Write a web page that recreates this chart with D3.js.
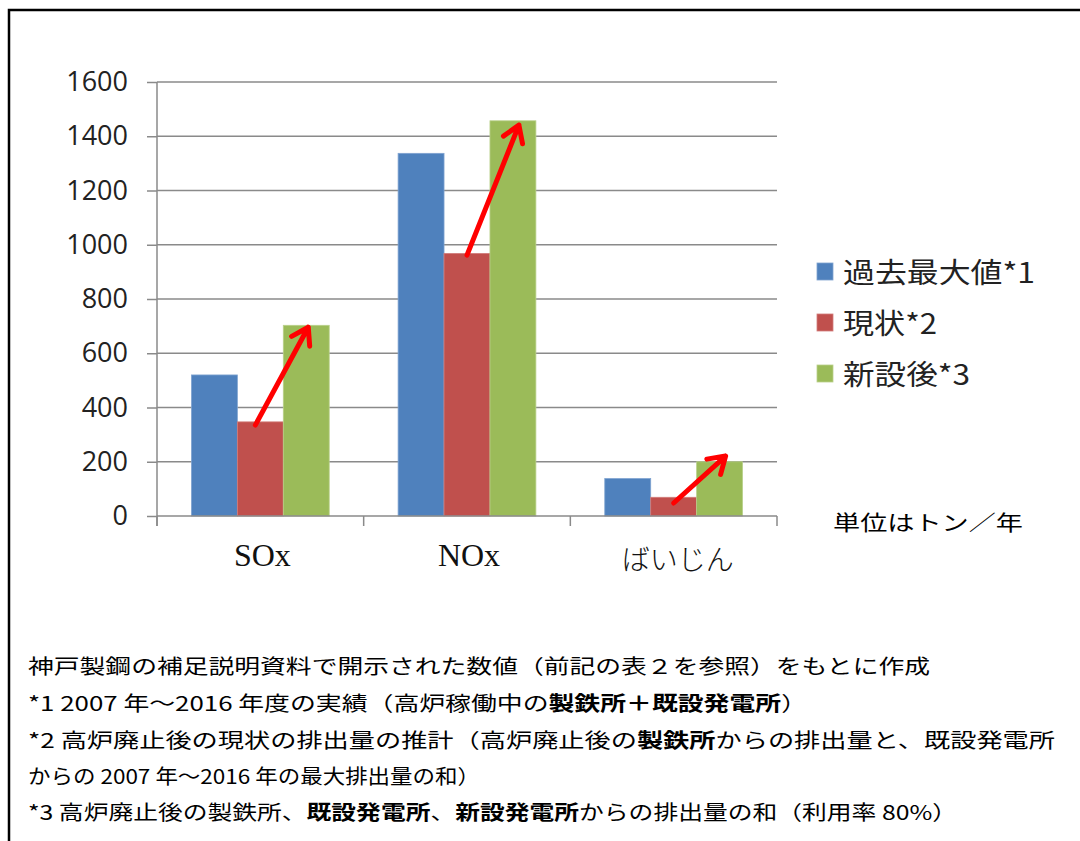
<!DOCTYPE html>
<html>
<head>
<meta charset="utf-8">
<script src="https://cdn.jsdelivr.net/npm/d3@7"></script>
<style>
  html, body { margin: 0; padding: 0; background: #fff; }
  svg { display: block; }
</style>
</head>
<body>
<svg id="chart" width="1080" height="841"></svg>
<script>
// ---------------- data ----------------
const categories = ["SOx", "NOx", "ばいじん"];
const seriesNames = ["過去最大値*1", "現状*2", "新設後*3"];
const pastMax = [520, 1337, 138];
const current = [347, 968, 69];
const afterNew = [703, 1457, 200];
const yTicks = [0, 200, 400, 600, 800, 1000, 1200, 1400, 1600];
const arrowFrom = [335, 962, 48];
const arrowTo = [696, 1441, 221];
const unitLabel = "単位はトン／年";
const noteLines = [
  [["神戸製鋼の補足説明資料で開示された数値（前記の表２を参照）をもとに作成", false]],
  [["*1 2007 年～2016 年度の実績（高炉稼働中の", false], ["製鉄所＋既設発電所", true], ["）", false]],
  [["*2 高炉廃止後の現状の排出量の推計（高炉廃止後の", false], ["製鉄所", true], ["からの排出量と、既設発電所", false]],
  [["からの 2007 年～2016 年の最大排出量の和）", false]],
  [["*3 高炉廃止後の製鉄所、", false], ["既設発電所", true], ["、", false], ["新設発電所", true], ["からの排出量の和（利用率 80%）", false]]
];
const noteWidths = [902, 779, 1027, 452, 929];

// ---------------- layout ----------------
const svg = d3.select("#chart");
const colors = ["#4F81BD", "#C0504D", "#9BBB59"];
const strokes = ["#7FA3D0", "#D27C7A", "#B9D08A"];
const plot = { left: 157, right: 777, top: 82, bottom: 516 };
const jp = "'Noto Sans CJK JP', 'Noto Sans', sans-serif";

// frame
svg.append("path")
  .attr("d", "M9,841 L9,10 L1080,10")
  .attr("fill", "none").attr("stroke", "#000").attr("stroke-width", 2.5);

const x = d3.scaleBand().domain(categories).range([plot.left, plot.right]).padding(0);
const xs = d3.scaleBand().domain([0, 1, 2]).range([0, x.bandwidth()]).paddingInner(0).paddingOuter(0.75);
const y = d3.scaleLinear().domain([0, 1600]).range([plot.bottom, plot.top]);

// gridlines
svg.append("g").selectAll("line").data(yTicks.filter(d => d > 0)).join("line")
  .attr("x1", plot.left).attr("x2", plot.right)
  .attr("y1", d => y(d)).attr("y2", d => y(d))
  .attr("stroke", "#8a8a8a").attr("stroke-width", 1.5);

// y axis
const yAxis = d3.axisLeft(y).tickValues(yTicks).tickSize(10).tickPadding(19).tickFormat(d3.format("d"));
const gy = svg.append("g").attr("transform", `translate(${plot.left},0)`).call(yAxis);
gy.select(".domain").attr("stroke", "#8a8a8a").attr("stroke-width", 1.5)
  .attr("d", `M0,${plot.top}V${plot.bottom + 10}`);
gy.selectAll(".tick line").attr("stroke", "#8a8a8a").attr("stroke-width", 1.5);
gy.selectAll(".tick text")
  .attr("font-family", "'Open Sans', sans-serif").attr("font-size", 27).attr("fill", "#222");

// bars
const seriesData = [pastMax, current, afterNew];
const gBars = svg.append("g");
seriesData.forEach((vals, si) => {
  gBars.selectAll(".s" + si).data(categories).join("rect")
    .attr("x", c => x(c) + xs(si))
    .attr("width", xs.bandwidth())
    .attr("y", (c, i) => y(vals[i]))
    .attr("height", (c, i) => y(0) - y(vals[i]))
    .attr("fill", colors[si])
    .attr("stroke", strokes[si]).attr("stroke-width", 0.8);
});

// x axis
const xAxisLine = svg.append("g");
xAxisLine.append("line")
  .attr("x1", plot.left).attr("x2", plot.right)
  .attr("y1", y(0)).attr("y2", y(0))
  .attr("stroke", "#8a8a8a").attr("stroke-width", 1.5);
const bounds = categories.map(c => x(c)).concat([plot.right]);
xAxisLine.selectAll(".xt").data(bounds).join("line")
  .attr("x1", d => d).attr("x2", d => d)
  .attr("y1", y(0)).attr("y2", y(0) + 10)
  .attr("stroke", "#8a8a8a").attr("stroke-width", 1.5);
svg.append("g").selectAll("text").data(categories).join("text")
  .attr("x", c => x(c) + x.bandwidth() / 2 + (c === "ばいじん" ? 4 : 2))
  .attr("y", c => c === "ばいじん" ? 558 : 555)
  .attr("text-anchor", "middle")
  .attr("dominant-baseline", "central")
  .attr("font-family", c => c === "ばいじん" ? jp : "'Liberation Serif', 'Times New Roman', serif")
  .attr("font-size", c => c === "ばいじん" ? 28 : 32)
  .attr("font-weight", c => c === "ばいじん" ? 300 : 400)
  .attr("fill", "#111")
  .text(c => c);

// arrows
const gArr = svg.append("g").attr("stroke", "#FF0000").attr("stroke-width", 5)
  .attr("stroke-linecap", "round").attr("fill", "none");
categories.forEach((c, i) => {
  const x0 = x(c) + xs(1) + xs.bandwidth() / 2 - (i === 0 ? 5 : 0);
  const x1 = x(c) + xs(2) + xs.bandwidth() / 2 + (i === 0 ? 2 : 6);
  const y0 = y(arrowFrom[i]), y1 = y(arrowTo[i]);
  const ang = Math.atan2(y1 - y0, x1 - x0);
  const L = 19, spread = Math.PI / 5.5;
  const a1 = ang + Math.PI - spread, a2 = ang + Math.PI + spread;
  gArr.append("path").attr("d",
    `M${x0},${y0}L${x1},${y1}` +
    `M${x1 + L * Math.cos(a1)},${y1 + L * Math.sin(a1)}L${x1},${y1}L${x1 + L * Math.cos(a2)},${y1 + L * Math.sin(a2)}`)
    .attr("stroke-linejoin", "round");
});

// legend
const legendY = [271, 322, 373];
const legendW = [192, 94, 127];
const gLeg = svg.append("g");
seriesNames.forEach((n, i) => {
  gLeg.append("rect").attr("x", 817).attr("y", legendY[i] - 8).attr("width", 16).attr("height", 17)
    .attr("fill", colors[i]).attr("stroke", strokes[i]).attr("stroke-width", 0.8);
  gLeg.append("text").attr("x", 843).attr("y", legendY[i])
    .attr("dominant-baseline", "central")
    .attr("font-family", jp).attr("font-size", 28).attr("fill", "#222")
    .attr("textLength", legendW[i]).attr("lengthAdjust", "spacingAndGlyphs")
    .text(n);
});

// unit
svg.append("text").attr("x", 833).attr("y", 521)
  .attr("dominant-baseline", "central")
  .attr("font-family", jp).attr("font-size", 21).attr("fill", "#000")
  .attr("textLength", 190).attr("lengthAdjust", "spacingAndGlyphs")
  .text(unitLabel);

// notes
const noteY = [665, 702, 739, 775, 811];
noteLines.forEach((parts, li) => {
  const t = svg.append("text").attr("x", 28).attr("y", noteY[li])
    .attr("dominant-baseline", "central")
    .attr("font-family", jp).attr("font-size", 20).attr("fill", "#000")
    .attr("textLength", noteWidths[li]).attr("lengthAdjust", "spacingAndGlyphs");
  parts.forEach(([s, b]) => {
    t.append("tspan").attr("font-weight", b ? 700 : 400).text(s);
  });
});
</script>
</body>
</html>
